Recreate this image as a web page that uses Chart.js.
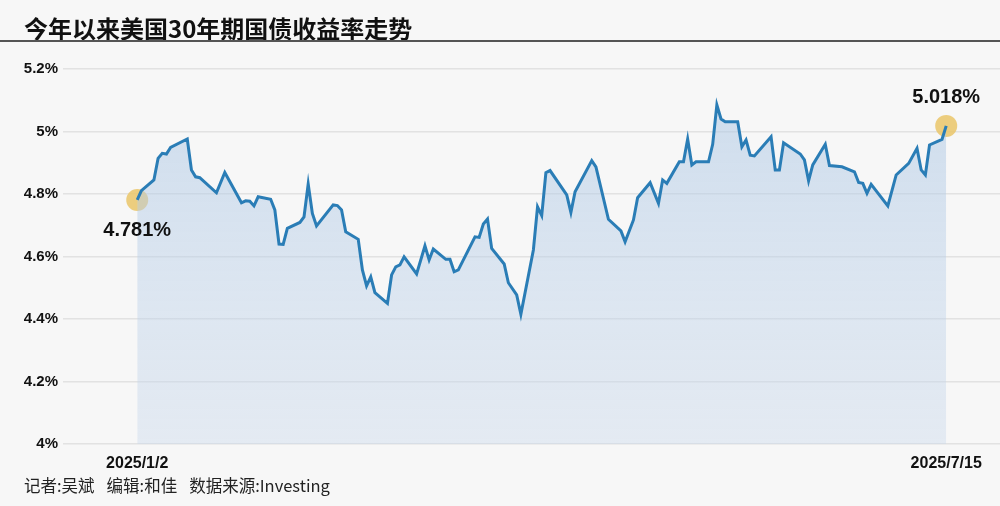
<!DOCTYPE html>
<html>
<head>
<meta charset="utf-8">
<script src="https://cdn.jsdelivr.net/npm/chart.js@4.4.1/dist/chart.umd.min.js"></script>
<style>
    body { margin: 0; background: #f7f7f7; }
    #wrap { position: relative; width: 1000px; height: 506px; overflow: hidden; }
    #yield-chart { position: absolute; left: 0; top: 0; }
    .title {
        position: absolute; left: 24px; top: 15px;
        font: bold 24px/26px 'Noto Sans CJK SC', sans-serif;
        color: #111;
    }
    .rule { position: absolute; left: 0; top: 40px; width: 1000px; height: 2px; background: #555; }
    .footer {
        position: absolute; left: 24px; top: 474px;
        font: 16.5px/22px 'Noto Sans CJK SC', sans-serif; color: #222;
    }
    .footer span { margin-right: 12px; }
</style>
</head>
<body>
<div id="wrap">
    <canvas id="yield-chart" width="1000" height="506"></canvas>
    <div class="title">今年以来美国30年期国债收益率走势</div>
    <div class="rule"></div>
    <div class="footer"><span>记者:吴斌</span><span>编辑:和佳</span><span>数据来源:Investing</span></div>
</div>
<script>
// calendar days counted from 2025/1/2, only the turning points of the line
const dayOffsets = [
    0, 1, 4, 5, 6, 7, 8, 12, 13, 14, 15, 19, 21, 25, 26, 27, 28, 29, 32, 33,
    34, 35, 36, 39, 40, 41, 42, 43, 47, 48, 49, 50, 53, 54, 55, 56, 57, 60, 61, 62,
    63, 64, 67, 69, 70, 71, 74, 75, 76, 77, 81, 82, 83, 84, 85, 88, 89, 91, 92, 95,
    96, 97, 98, 99, 103, 104, 105, 109, 110, 113, 116, 117, 119, 120, 123, 125, 126, 127, 130, 131,
    132, 133, 134, 137, 138, 139, 140, 141, 144, 145, 146, 147, 148, 152, 153, 154, 155, 159, 160, 161,
    162, 165, 166, 169, 172, 173, 174, 175, 176, 180, 182, 185, 187, 188, 189, 190, 193, 194
];
const yields = [
    4.781, 4.811, 4.845, 4.914, 4.930, 4.928, 4.949, 4.976, 4.877, 4.855, 4.852, 4.804, 4.869, 4.772, 4.778, 4.777, 4.762, 4.791, 4.783, 4.749,
    4.640, 4.639, 4.690, 4.709, 4.727, 4.832, 4.738, 4.698, 4.765, 4.763, 4.749, 4.679, 4.655, 4.557, 4.506, 4.535, 4.484, 4.450, 4.541, 4.567,
    4.573, 4.599, 4.544, 4.634, 4.589, 4.624, 4.591, 4.591, 4.551, 4.557, 4.663, 4.661, 4.704, 4.720, 4.626, 4.576, 4.516, 4.477, 4.415, 4.621,
    4.759, 4.731, 4.868, 4.875, 4.797, 4.741, 4.807, 4.907, 4.887, 4.719, 4.682, 4.647, 4.717, 4.788, 4.836, 4.770, 4.845, 4.834, 4.903, 4.903,
    4.976, 4.893, 4.903, 4.903, 4.959, 5.085, 5.040, 5.031, 5.031, 4.951, 4.973, 4.924, 4.922, 4.983, 4.877, 4.877, 4.964, 4.928, 4.909, 4.842,
    4.893, 4.959, 4.891, 4.887, 4.871, 4.837, 4.834, 4.802, 4.831, 4.762, 4.861, 4.898, 4.946, 4.877, 4.861, 4.957, 4.975, 5.018
];
const xTickDays = [0, 194];
const xTickLabels = ['2025/1/2', '2025/7/15'];
const endLabels = ['4.781%', '5.018%'];

const lineColor = '#2a7db6';
const labelFont = "'Liberation Sans', Arial, sans-serif";

const linePoints = dayOffsets.map((d, i) => ({ x: d, y: yields[i] }));
const endPoints = [linePoints[0], linePoints[linePoints.length - 1]];

const endLabelPlugin = {
    id: 'end-labels',
    afterDatasetsDraw(chart) {
        const ctx = chart.ctx;
        const xs = chart.scales.x;
        const ys = chart.scales.y;
        ctx.save();
        ctx.font = 'bold 20px ' + labelFont;
        ctx.fillStyle = '#111';
        ctx.textAlign = 'center';
        ctx.textBaseline = 'middle';
        // first label sits under its point, last one above
        const shifts = [31, -28];
        endPoints.forEach((p, i) => {
            ctx.fillText(endLabels[i], xs.getPixelForValue(p.x), ys.getPixelForValue(p.y) + shifts[i]);
        });
        ctx.restore();
    }
};

new Chart(document.getElementById('yield-chart'), {
    type: 'line',
    data: {
        datasets: [
            {
                data: linePoints,
                borderColor: lineColor,
                borderWidth: 3,
                pointRadius: 0,
                tension: 0,
                fill: 'start',
                order: 0,
                backgroundColor: (context) => {
                    const area = context.chart.chartArea;
                    if (!area) {
                        return 'rgba(180,204,228,0.5)';
                    }
                    const g = context.chart.ctx.createLinearGradient(0, area.top, 0, area.bottom);
                    g.addColorStop(0, 'rgba(170,198,228,0.55)');
                    g.addColorStop(1, 'rgba(200,216,236,0.4)');
                    return g;
                }
            },
            {
                data: endPoints,
                showLine: false,
                pointRadius: 11,
                pointBorderWidth: 0,
                pointBackgroundColor: 'rgba(234,198,104,0.85)',
                order: 1
            }
        ]
    },
    options: {
        responsive: false,
        animation: false,
        devicePixelRatio: 1,
        layout: {
            autoPadding: false,
            padding: { top: 69, right: 0, bottom: 0, left: 0 }
        },
        plugins: {
            legend: { display: false },
            tooltip: { enabled: false }
        },
        scales: {
            x: {
                type: 'linear',
                min: -17.8,
                max: 206.9,
                grid: { display: false },
                border: { display: false },
                afterBuildTicks: (scale) => {
                    scale.ticks = xTickDays.map(v => ({ value: v }));
                },
                afterFit: (scale) => {
                    scale.height = 62;
                    scale.paddingLeft = 0;
                    scale.paddingRight = 0;
                },
                ticks: {
                    autoSkip: false,
                    maxRotation: 0,
                    padding: 2,
                    color: '#111',
                    font: { family: labelFont, weight: 'bold', size: 16 },
                    callback: (v) => xTickLabels[xTickDays.indexOf(v)]
                }
            },
            y: {
                min: 4,
                max: 5.2,
                grid: { color: '#e2e2e2', lineWidth: 1.5, drawTicks: false },
                border: { display: false },
                afterFit: (scale) => { scale.width = 63; },
                ticks: {
                    stepSize: 0.2,
                    padding: 5,
                    color: '#111',
                    font: { family: labelFont, weight: 'bold', size: 15 },
                    callback: (v) => parseFloat(v.toFixed(1)) + '%'
                }
            }
        }
    },
    plugins: [endLabelPlugin]
});
</script>
</body>
</html>
